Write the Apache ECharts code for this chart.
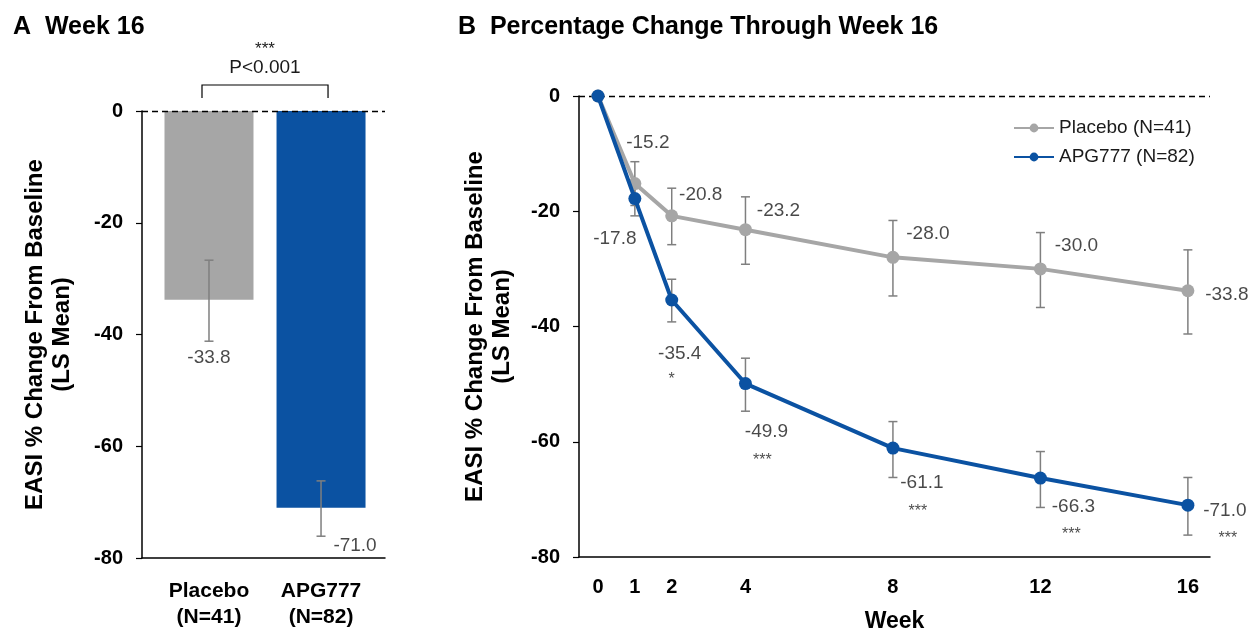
<!DOCTYPE html>
<html><head><meta charset="utf-8">
<script src="https://cdn.jsdelivr.net/npm/echarts@6/dist/echarts.min.js"></script>
<style>html,body{margin:0;padding:0;background:#fff}#c{width:1251px;height:632px}</style>
</head><body><div id="c"></div>
<script>
// ---- data ----
const barCategories = ['Placebo\n(N=41)', 'APG777\n(N=82)'];
const barValues = [-33.8, -71.0];
const barErrLow = [-41.2, -76.1];
const barErrHigh = [-26.7, -66.2];
const barLabels = ['-33.8', '-71.0'];
const yTicks = [0, -20, -40, -60, -80];
const weeks = [0, 1, 2, 4, 8, 12, 16];
const placeboName = 'Placebo (N=41)';
const apgName = 'APG777 (N=82)';
const placeboValues = [0, -15.2, -20.8, -23.2, -28.0, -30.0, -33.8];
const placeboLow = [null, -19.0, -25.8, -29.2, -34.7, -36.7, -41.3];
const placeboHigh = [null, -11.4, -16.0, -17.5, -21.6, -23.7, -26.7];
const apgValues = [0, -17.8, -35.4, -49.9, -61.1, -66.3, -71.0];
const apgLow = [null, -20.8, -39.2, -54.7, -66.2, -71.4, -76.2];
const apgHigh = [null, -14.8, -31.8, -45.5, -56.5, -61.7, -66.2];
const apgStars = ['', '', '*', '***', '***', '***', '***'];
const pText = 'P<0.001';
const pStars = '***';

// ---- style (label offsets in px) ----
const placeboLabelOffsets = [null, [13, -41], [29, -21], [33, -19], [35, -24], [36, -23], [39, 4]];
const apgLabelOffsets = [null, [-20, 40], [8, 54], [21, 48], [29, 35], [33, 29], [37, 6]];
const apgStarOffsets = [null, null, [0, 80], [17, 77], [25, 64], [31, 57], [40, 33]];
const barLabelOffsets = [[0, 17], [34, 10]];

const GRAY = '#a6a6a6', BLUE = '#0b52a2', ERR = '#7f7f7f';
const FONT = '"Liberation Sans", Arial, sans-serif';
const LBL = 19;

function errRender(params, api) {
  const x = api.value(0), lo = api.value(1), hi = api.value(2);
  const p1 = api.coord([x, hi]), p2 = api.coord([x, lo]);
  const w = 4.5;
  const st = { stroke: ERR, lineWidth: 1.5 };
  return { type: 'group', children: [
    { type: 'line', shape: { x1: p1[0], y1: p1[1], x2: p2[0], y2: p2[1] }, style: st },
    { type: 'line', shape: { x1: p1[0] - w, y1: p1[1], x2: p1[0] + w, y2: p1[1] }, style: st },
    { type: 'line', shape: { x1: p2[0] - w, y1: p2[1], x2: p2[0] + w, y2: p2[1] }, style: st }
  ]};
}

const barErrData = barValues.map((v, i) => [i, barErrLow[i], barErrHigh[i]]);
const plErrData = weeks.map((w, i) => [w, placeboLow[i], placeboHigh[i]]).filter(d => d[1] != null);
const apErrData = weeks.map((w, i) => [w, apgLow[i], apgHigh[i]]).filter(d => d[1] != null);

const labelStyle = { show: true, position: 'inside', color: '#1a1a1a', fontFamily: FONT };

function labelSeries(xIdx, yIdx, values, texts, offsets, fontSize) {
  return {
    type: 'scatter', xAxisIndex: xIdx, yAxisIndex: yIdx, symbolSize: 1, silent: true, z: 20,
    itemStyle: { color: 'rgba(0,0,0,0)' },
    data: values.map((v, i) => offsets[i] ? ({
      value: [v[0], v[1]],
      label: Object.assign({}, labelStyle, { formatter: texts[i], offset: offsets[i], fontSize: fontSize || LBL })
    }) : null).filter(d => d)
  };
}

function yAxisFor(g, gap) {
  return {
    gridIndex: g, type: 'value', min: -80, max: 0, interval: 20,
    name: 'EASI % Change From Baseline\n(LS Mean)', nameLocation: 'middle', nameGap: gap, nameRotate: 90,
    nameTextStyle: { fontSize: 24, fontWeight: 'bold', color: '#000', lineHeight: 27, fontFamily: FONT },
    axisLine: { show: true, onZero: false, lineStyle: { color: '#000', width: 1.5 } },
    axisTick: { show: true, inside: false, length: 6, lineStyle: { color: '#000', width: 1.2 } },
    splitLine: { show: false },
    axisLabel: {
      customValues: yTicks, margin: 19,
      fontSize: 20, fontWeight: 'bold', color: '#000', fontFamily: FONT
    }
  };
}

const chart = echarts.init(document.getElementById('c'), null, { renderer: 'canvas' });
chart.setOption({
  animation: false,
  backgroundColor: '#fff',
  textStyle: { fontFamily: FONT },
  title: [
    { text: 'A  Week 16', left: 8, top: 10, textStyle: { fontSize: 25, fontWeight: 'bold', color: '#000', fontFamily: FONT } },
    { text: 'B  Percentage Change Through Week 16', left: 453, top: 10, textStyle: { fontSize: 25, fontWeight: 'bold', color: '#000', fontFamily: FONT } }
  ],
  legend: {
    orient: 'vertical', left: 1008, top: 112, itemWidth: 40, itemHeight: 11, itemGap: 7,
    data: [placeboName, apgName],
    textStyle: { fontSize: 19, lineHeight: 22, color: '#1a1a1a', fontFamily: FONT }
  },
  grid: [
    { left: 142, right: 866, top: 111, bottom: 74, outerBoundsMode: 'none', containLabel: false },
    { left: 579, right: 41, top: 96, bottom: 75, outerBoundsMode: 'none', containLabel: false }
  ],
  xAxis: [
    {
      gridIndex: 0, type: 'value', min: -0.598, max: 1.571,
      axisLine: { show: true, onZero: false, lineStyle: { color: '#000', width: 1.5 } },
      axisTick: { show: false }, splitLine: { show: false },
      axisLabel: {
        customValues: [0, 1], margin: 20, lineHeight: 26,
        formatter: v => barCategories[Math.round(v)],
        fontSize: 21, fontWeight: 'bold', color: '#000', fontFamily: FONT
      }
    },
    {
      gridIndex: 1, type: 'value', min: -0.515, max: 16.6,
      name: 'Week', nameLocation: 'middle', nameGap: 53,
      nameTextStyle: { fontSize: 23, fontWeight: 'bold', color: '#000', fontFamily: FONT },
      axisLine: { show: true, onZero: false, lineStyle: { color: '#000', width: 1.5 } },
      axisTick: { show: false }, splitLine: { show: false },
      axisLabel: {
        customValues: weeks, margin: 20,
        fontSize: 20, fontWeight: 'bold', color: '#000', fontFamily: FONT
      }
    }
  ],
  yAxis: [yAxisFor(0, 66), yAxisFor(1, 63)],
  series: [
    // ---- panel A ----
    {
      type: 'bar', xAxisIndex: 0, yAxisIndex: 0, barWidth: 89, z: 2,
      data: barValues.map((v, i) => ({ value: [i, v], itemStyle: { color: i === 0 ? GRAY : BLUE } })),
      markLine: {
        silent: true, symbol: 'none', label: { show: false },
        lineStyle: { type: [6, 4], color: '#000', width: 1.3 },
        data: [{ yAxis: 0 }]
      }
    },
    { type: 'custom', xAxisIndex: 0, yAxisIndex: 0, renderItem: errRender, encode: { x: 0, y: [1, 2] }, data: barErrData, z: 5 },
    labelSeries(0, 0, barValues.map((v, i) => [i, barErrLow[i]]), barLabels, barLabelOffsets),
    {
      type: 'custom', xAxisIndex: 0, yAxisIndex: 0, clip: false, silent: true, z: 10,
      data: [[0, 1, 0]],
      renderItem: (params, api) => {
        const a = api.coord([api.value(0), api.value(2)]);
        const b = api.coord([api.value(1), api.value(2)]);
        const x1 = a[0] - 7, x2 = b[0] + 7, y0 = a[1] - 13, y1 = a[1] - 26;
        return { type: 'group', children: [
          { type: 'polyline', shape: { points: [[x1, y0], [x1, y1], [x2, y1], [x2, y0]] }, style: { stroke: '#000', lineWidth: 1.2, fill: null } },
          { type: 'text', style: { text: pText, x: (x1 + x2) / 2, y: a[1] - 43, align: 'center', verticalAlign: 'middle', fontSize: 19, fontFamily: FONT, fill: '#1a1a1a' } },
          { type: 'text', style: { text: pStars, x: (x1 + x2) / 2, y: a[1] - 62, align: 'center', verticalAlign: 'middle', fontSize: 17, fontFamily: FONT, fill: '#1a1a1a' } }
        ]};
      }
    },
    // ---- panel B ----
    { type: 'custom', xAxisIndex: 1, yAxisIndex: 1, renderItem: errRender, encode: { x: 0, y: [1, 2] }, data: plErrData, z: 3 },
    { type: 'custom', xAxisIndex: 1, yAxisIndex: 1, renderItem: errRender, encode: { x: 0, y: [1, 2] }, data: apErrData, z: 3 },
    {
      name: placeboName, type: 'line', xAxisIndex: 1, yAxisIndex: 1, z: 6,
      data: weeks.map((w, i) => [w, placeboValues[i]]),
      symbol: 'circle', symbolSize: 13,
      lineStyle: { color: GRAY, width: 4 }, itemStyle: { color: GRAY },
      markLine: {
        silent: true, symbol: 'none', label: { show: false },
        lineStyle: { type: [6, 4], color: '#000', width: 1.3 },
        data: [{ yAxis: 0 }]
      }
    },
    {
      name: apgName, type: 'line', xAxisIndex: 1, yAxisIndex: 1, z: 7,
      data: weeks.map((w, i) => [w, apgValues[i]]),
      symbol: 'circle', symbolSize: 13,
      lineStyle: { color: BLUE, width: 4 }, itemStyle: { color: BLUE }
    },
    labelSeries(1, 1, weeks.map((w, i) => [w, placeboValues[i]]), placeboValues.map(v => v.toFixed(1)), placeboLabelOffsets),
    labelSeries(1, 1, weeks.map((w, i) => [w, apgValues[i]]), apgValues.map(v => v.toFixed(1)), apgLabelOffsets),
    labelSeries(1, 1, weeks.map((w, i) => [w, apgValues[i]]), apgStars, apgStarOffsets, 16)
  ]
});
</script></body></html>
